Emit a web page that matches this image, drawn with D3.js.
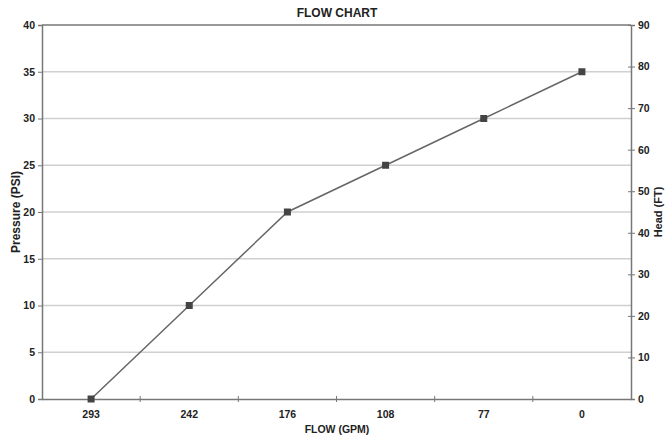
<!DOCTYPE html>
<html><head><meta charset="utf-8">
<script src="https://cdn.jsdelivr.net/npm/d3@7"></script>
<style>
body{margin:0;background:#fff;}
svg text{font-family:"Liberation Sans",Arial,Helvetica,sans-serif;fill:#222;}
</style></head>
<body><svg id="c" width="665" height="436"></svg>
<script>
const categories = ["293","242","176","108","77","0"];
const pressure = [0,10,20,25,30,35];
const leftTicks = [0,5,10,15,20,25,30,35,40];
const rightTicks = [0,10,20,30,40,50,60,70,80,90];

const W=665,H=436;
const m={l:42,r:34,t:25,b:37};
const svg=d3.select("#c");
const x=d3.scaleBand().domain(categories).range([m.l,W-m.r]);
const y=d3.scaleLinear().domain([0,40]).range([H-m.b,m.t]);
const y2=d3.scaleLinear().domain([0,90]).range([H-m.b,m.t]);

// gridlines
svg.append("g").selectAll("line").data(leftTicks.filter(d=>d>0&&d<40)).join("line")
  .attr("x1",m.l).attr("x2",W-m.r).attr("y1",d=>y(d)).attr("y2",d=>y(d))
  .attr("stroke","#d0d0d0").attr("stroke-width",1.5);
// top border
svg.append("line").attr("x1",m.l).attr("x2",W-m.r).attr("y1",y(40)).attr("y2",y(40))
  .attr("stroke","#777").attr("stroke-width",1.5);

// left axis
const gl=svg.append("g").attr("transform",`translate(${m.l},0)`)
  .call(d3.axisLeft(y).tickValues(leftTicks).tickSize(4).tickPadding(3));
// right axis
const gr=svg.append("g").attr("transform",`translate(${W-m.r},0)`)
  .call(d3.axisRight(y2).tickValues(rightTicks).tickSize(4).tickPadding(3));
gr.selectAll(".tick line").attr("x1",-3);
// bottom axis
const gb=svg.append("g").attr("transform",`translate(0,${H-m.b})`)
  .call(d3.axisBottom(x).tickSize(0).tickPadding(12));
gb.selectAll(".tick line").remove();
gb.selectAll(".bnd").data(d3.range(1,categories.length)).join("line")
  .attr("x1",i=>m.l+i*x.step()).attr("x2",i=>m.l+i*x.step()).attr("y1",-3).attr("y2",3)
  .attr("stroke","#777");

[gl,gr,gb].forEach(g=>{
  g.select(".domain").attr("stroke","#777").attr("stroke-width",1.5);
  g.selectAll(".tick line").attr("stroke","#777");
  g.selectAll("text").attr("font-size",10.5).attr("fill","#222").attr("font-weight","600");
});

// line
svg.append("path").datum(pressure.map((v,i)=>[categories[i],v]))
  .attr("fill","none").attr("stroke","#666").attr("stroke-width",1.5)
  .attr("d",d3.line().x(d=>x(d[0])+x.bandwidth()/2).y(d=>y(d[1])));
svg.append("g").selectAll("rect").data(pressure.map((v,i)=>[categories[i],v])).join("rect")
  .attr("x",d=>x(d[0])+x.bandwidth()/2-3.5).attr("y",d=>y(d[1])-3.5)
  .attr("width",7).attr("height",7).attr("fill","#444");

// titles
svg.append("text").attr("x",337).attr("y",17).attr("text-anchor","middle")
  .attr("font-size",12).attr("font-weight","bold").text("FLOW CHART");
svg.append("text").attr("x",337).attr("y",433).attr("text-anchor","middle")
  .attr("font-size",10.5).attr("font-weight","bold").text("FLOW (GPM)");
svg.append("text").attr("transform","translate(20,212) rotate(-90)").attr("text-anchor","middle")
  .attr("font-size",12).attr("font-weight","bold").text("Pressure (PSI)");
svg.append("text").attr("transform","translate(662,212) rotate(-90)").attr("text-anchor","middle")
  .attr("font-size",11).attr("font-weight","bold").text("Head (FT)");
</script></body></html>
